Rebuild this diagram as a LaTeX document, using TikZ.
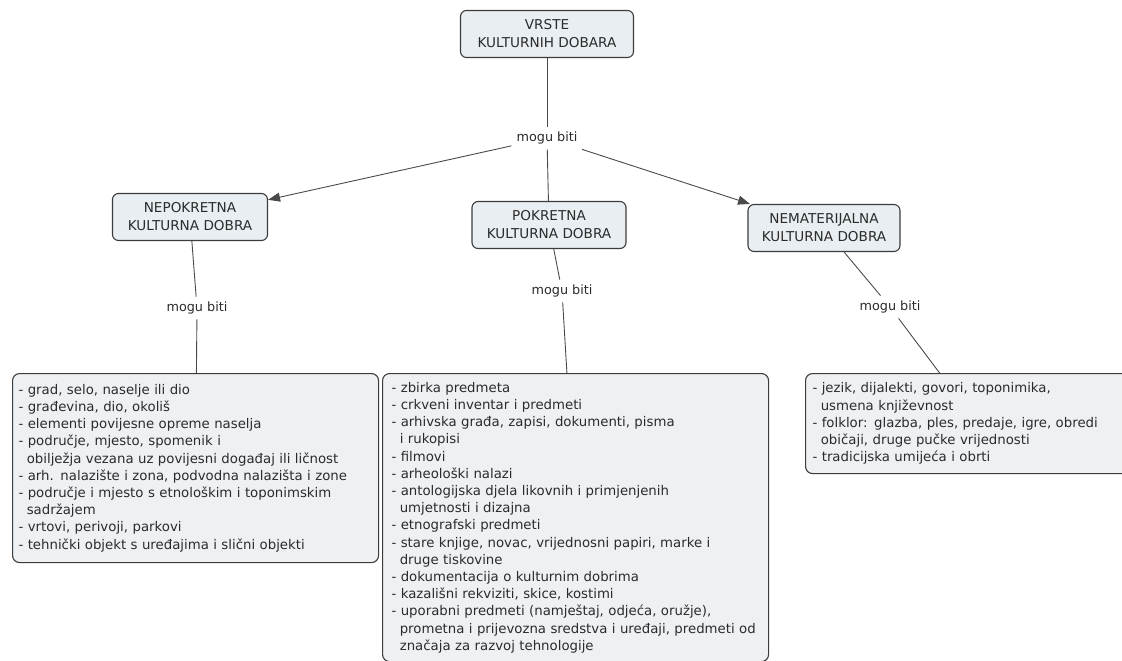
\documentclass[tikz,border=0pt]{standalone}
\usepackage{fontspec}
\setmainfont{DejaVu Sans}
\usetikzlibrary{arrows.meta}

\definecolor{rub}{HTML}{3C3C3C}
\definecolor{pojamfill}{HTML}{E8EEF2}
\definecolor{popisfill}{HTML}{EDF1F4}
\definecolor{tekst}{HTML}{2B2B2B}
\definecolor{crta}{HTML}{4A4A4A}

\newcommand{\dalje}{\hspace*{0.62em}}

\begin{document}
\begin{tikzpicture}[x=1pt,y=-1pt,
    pojam/.style={draw=rub, fill=pojamfill, rounded corners=6pt, line width=1.1pt,
        align=center, minimum height=47pt, text=tekst,
        font=\fontsize{13.6}{18}\selectfont},
    veza/.style={text=tekst, inner sep=5pt, font=\fontsize{12.8}{15}\selectfont},
    popis/.style={draw=rub, fill=popisfill, rounded corners=7pt, line width=1.1pt,
        align=left, anchor=north west, inner xsep=6pt, inner ysep=0pt, text=tekst,
        font=\fontsize{13.3}{17.2}\selectfont},
    crt/.style={draw=crta, line width=0.9pt},
    str/.style={crt, -{Triangle[length=12pt,width=9pt]}}]
    \useasboundingbox (0,0) rectangle (1122,661);
    \clip (0,0) rectangle (1122,661);

    \node[pojam, minimum width=173pt] (vrste) at (547,34) {VRSTE\\KULTURNIH DOBARA};
    \node[veza] (m0) at (547,138) {mogu biti};

    \node[pojam, minimum width=155pt] (nep) at (190,217) {NEPOKRETNA\\KULTURNA DOBRA};
    \node[pojam, minimum width=154pt] (pok) at (549,225) {POKRETNA\\KULTURNA DOBRA};
    \node[pojam, minimum width=152pt] (nem) at (824,228) {NEMATERIJALNA\\KULTURNA DOBRA};

    \node[veza] (m1) at (197,308) {mogu biti};
    \node[veza] (m2) at (562,291) {mogu biti};
    \node[veza] (m3) at (890,307) {mogu biti};

    \node[popis, text width=354pt, minimum height=189pt] (lst1) at (12,373) {%
        - grad, selo, naselje ili dio\\
        - građevina, dio, okoliš\\
        - elementi povijesne opreme naselja\\
        - područje, mjesto, spomenik i\\
        \dalje obilježja vezana uz povijesni događaj ili ličnost\\
        - arh. nalazište i zona, podvodna nalazišta i zone\\
        - područje i mjesto s etnološkim i toponimskim\\
        \dalje sadržajem\\
        - vrtovi, perivoji, parkovi\\
        - tehnički objekt s uređajima i slični objekti};

    \node[popis, inner xsep=9pt, text width=368pt, minimum height=288pt] (lst2) at (382,373) {%
        - zbirka predmeta\\
        - crkveni inventar i predmeti\\
        - arhivska građa, zapisi, dokumenti, pisma\\
        \dalje i rukopisi\\
        - filmovi\\
        - arheološki nalazi\\
        - antologijska djela likovnih i primjenjenih\\
        \dalje umjetnosti i dizajna\\
        - etnografski predmeti\\
        - stare knjige, novac, vrijednosni papiri, marke i\\
        \dalje druge tiskovine\\
        - dokumentacija o kulturnim dobrima\\
        - kazališni rekviziti, skice, kostimi\\
        - uporabni predmeti (namještaj, odjeća, oružje),\\
        \dalje prometna i prijevozna sredstva i uređaji, predmeti od\\
        \dalje značaja za razvoj tehnologije};

    \node[popis, inner xsep=7pt, text width=330pt, minimum height=100pt] (lst3) at (805,373) {%
        - jezik, dijalekti, govori, toponimika,\\
        \dalje usmena književnost\\
        - folklor: glazba, ples, predaje, igre, obredi\\
        \dalje običaji, druge pučke vrijednosti\\
        - tradicijska umijeća i obrti};

    \draw[crt] (vrste) -- (m0);
    \draw[str] (m0) -- (nep);
    \draw[crt] (m0) -- (pok);
    \draw[str] (m0) -- (nem);

    \draw[crt] (nep) -- (m1);
    \draw[crt] (m1) -- (lst1);
    \draw[crt] (pok) -- (m2);
    \draw[crt] (m2) -- (lst2);
    \draw[crt] (nem) -- (m3);
    \draw[crt] (m3) -- (lst3);
\end{tikzpicture}
\end{document}
